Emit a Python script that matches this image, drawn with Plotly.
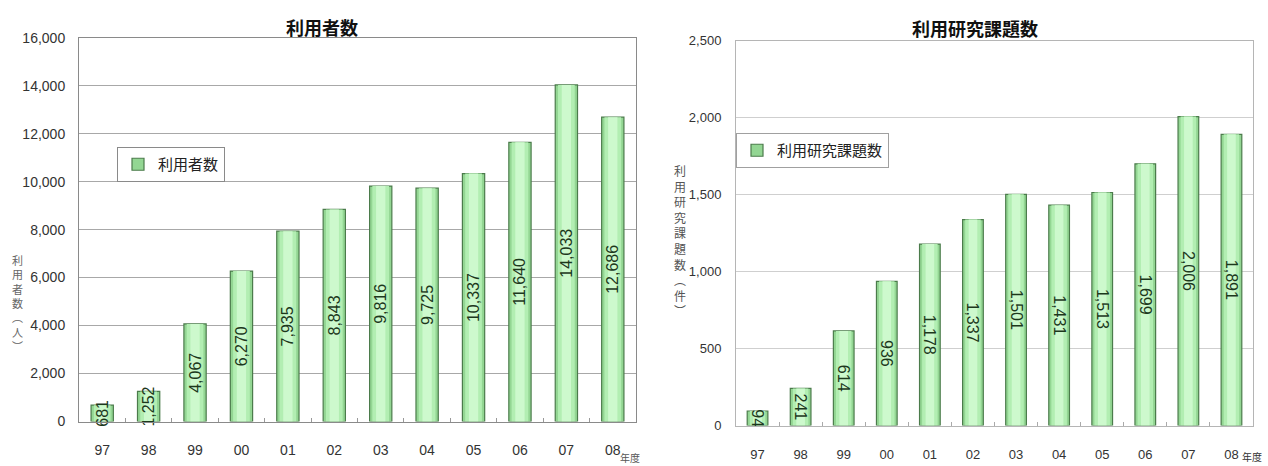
import plotly.graph_objects as go

# ---- data ----
years = ['97', '98', '99', '00', '01', '02', '03', '04', '05', '06', '07', '08']
users = [681, 1252, 4067, 6270, 7935, 8843, 9816, 9725, 10337, 11640, 14033, 12686]
projects = [94, 241, 614, 936, 1178, 1337, 1501, 1431, 1513, 1699, 2006, 1891]

title_left = '利用者数'
title_right = '利用研究課題数'
ytitle_left = ['利', '用', '者', '数', '︵', '人', '︶']
ytitle_right = ['利', '用', '研', '究', '課', '題', '数', '︵', '件', '︶']
xunit = '年度'

W, H = 1268, 466


def fx(p):
    return p / W


def fy(p):
    return 1 - p / H


NUM_FONT = 'Liberation Sans Narrow, Liberation Sans, Arial, sans-serif'
CJK_FONT = 'Noto Sans CJK JP, sans-serif'

fig = go.Figure()

layers = [
    (0.48, '#93d693', dict(color='#4b7b4b', width=1.2)),
    (0.36, '#b2eeb2', dict(width=0)),
    (0.20, '#cdf9cd', dict(width=0)),
]


def add_series(vals, name, xa, ya, legend, angle, fsize):
    for i, (w, col, line) in enumerate(layers):
        last = i == len(layers) - 1
        fig.add_trace(go.Bar(
            x=years, y=vals, name=name, width=w,
            marker=dict(color=col, line=line),
            xaxis=xa, yaxis=ya, legend=legend,
            showlegend=(i == 0),
            text=[f'{v:,}' for v in vals] if last else None,
            textposition='inside' if last else None,
            insidetextanchor='middle',
            textangle=angle,
            constraintext='none',
            cliponaxis=False,
            textfont=dict(family=NUM_FONT, size=fsize, color='#1c381c'),
            hoverinfo='skip',
        ))


add_series(users, '利用者数', 'x', 'y', 'legend', -90, 16)
add_series(projects, '利用研究課題数', 'x2', 'y2', 'legend2', 90, 16)

tickfont = dict(family=NUM_FONT, size=14, color='#333333')

fig.update_layout(
    width=W, height=H,
    margin=dict(l=0, r=0, t=0, b=0),
    paper_bgcolor='white', plot_bgcolor='white',
    barmode='overlay',
    xaxis=dict(domain=[fx(79), fx(636)], anchor='y', type='category', automargin=False,
               showline=True, linecolor='#8a8a8a', mirror=True,
               ticks='inside', tickson='boundaries', ticklen=4, tickcolor='#999999',
               tickfont=tickfont, ticklabelstandoff=16, showgrid=False),
    yaxis=dict(domain=[fy(421.5), fy(37.7)], anchor='x', range=[0, 16000], dtick=2000,
               automargin=False,
               tickformat=',', showline=True, linecolor='#8a8a8a', mirror=True,
               gridcolor='#a8a8a8', gridwidth=1, tickfont=tickfont,
               ticks='', ticklabelstandoff=10, zeroline=False),
    xaxis2=dict(domain=[fx(736), fx(1253)], anchor='y2', type='category', automargin=False,
                showline=True, linecolor='#b5b5b5', mirror=True,
                ticks='inside', tickson='boundaries', ticklen=4, tickcolor='#aaaaaa',
                tickfont=dict(family=NUM_FONT, size=13, color='#333333'),
                ticklabelstandoff=17, showgrid=False),
    yaxis2=dict(domain=[fy(425.5), fy(40.5)], anchor='x2', range=[0, 2500], dtick=500,
                automargin=False,
                tickformat=',', showline=True, linecolor='#b5b5b5', mirror=True,
                gridcolor='#cfcfcf', gridwidth=1,
                tickfont=dict(family=NUM_FONT, size=13, color='#333333'),
                ticks='', ticklabelstandoff=11, zeroline=False),
    legend=dict(x=fx(117), y=fy(147), xanchor='left', yanchor='top',
                bgcolor='white', bordercolor='#8a8a8a', borderwidth=1,
                font=dict(family=CJK_FONT, size=15, color='#222222'),
                itemwidth=30),
    legend2=dict(x=fx(736), y=fy(133), xanchor='left', yanchor='top',
                 bgcolor='white', bordercolor='#a0a0a0', borderwidth=1,
                 font=dict(family=CJK_FONT, size=15, color='#222222'),
                 itemwidth=30),
    showlegend=True,
)


def A(text, x, y, size, color, bold=False):
    return dict(text=f'<b>{text}</b>' if bold else text, x=fx(x), y=fy(y),
                xref='paper', yref='paper', xanchor='center', yanchor='middle',
                showarrow=False, font=dict(family=CJK_FONT, size=size, color=color))


ann = [
    A(title_left, 322, 27, 18, '#111111', True),
    A(title_right, 975, 28, 18, '#111111', True),
    A('<br>'.join(ytitle_left), 17, 303, 11, '#666666'),
    A('<br>'.join(ytitle_right), 680, 240, 12, '#555555'),
    A(xunit, 630, 457, 10, '#555555'),
    A(xunit, 1252, 456, 10, '#333333'),
]
fig.update_layout(annotations=ann)

fig.write_html('out.html')
